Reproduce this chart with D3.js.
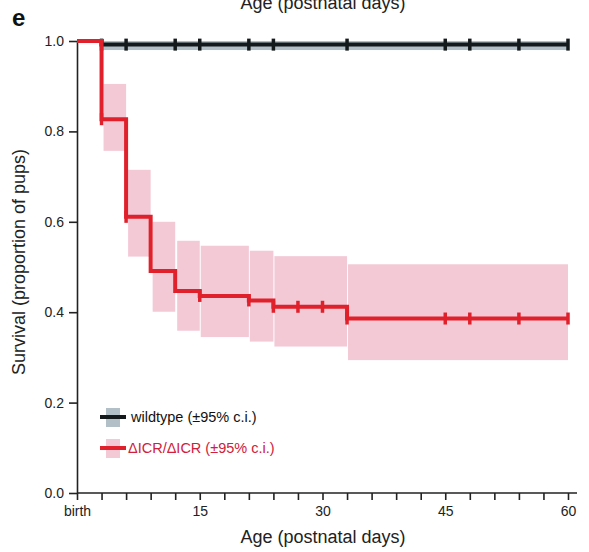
<!DOCTYPE html>
<html>
<head>
<meta charset="utf-8">
<script src="https://cdn.jsdelivr.net/npm/d3@7"></script>
<style>
  body { margin: 0; background: #fff; }
  svg text { font-family: "Liberation Sans", Arial, sans-serif; }
</style>
</head>
<body>
<div id="chart"></div>
<script>
// survival steps (day the step starts, value from then on)
var wtDays = [0, 3, 60];
var wtSurv = [1.0, 0.992, 0.992];
var wtLower = [1.0, 0.980, 0.980];
var wtUpper = [1.0, 1.0, 1.0];
var wtCensor = [3, 6, 12, 15, 21, 24, 33, 45, 48, 54, 60];

var koDays = [0, 3, 6, 9, 12, 15, 21, 24, 33, 60];
var koSurv = [1.0, 0.827, 0.611, 0.491, 0.447, 0.436, 0.426, 0.412, 0.386, 0.386];
var koLower = [1.0, 0.757, 0.523, 0.401, 0.359, 0.345, 0.335, 0.324, 0.294, 0.294];
var koUpper = [1.0, 0.905, 0.715, 0.600, 0.558, 0.547, 0.536, 0.524, 0.506, 0.506];
var koCensor = [3, 6, 15, 21, 24, 27, 30, 33, 45, 48, 54, 60];

var yTicks = [0, 0.2, 0.4, 0.6, 0.8, 1.0];
var xTicks = d3.range(0, 61, 3);
var xLabels = { 0: "birth", 15: "15", 30: "30", 45: "45", 60: "60" };
var legendLabels = ["wildtype (\u00b195% c.i.)", "\u0394ICR/\u0394ICR (\u00b195% c.i.)"];

var w = 589, h = 552;
var red = "#e0202a", pink = "#f3c9d6", dark = "#141a1c", grey = "#b3bfc6";

var x = d3.scaleLinear().domain([0, 60]).range([77, 568]);
var y = d3.scaleLinear().domain([0, 1]).range([493, 41]);

var svg = d3.select("#chart").append("svg")
  .attr("width", w).attr("height", h);

// panel letter and the clipped label above
svg.append("text").attr("x", 12).attr("y", 26)
  .attr("font-size", 24).attr("font-weight", "bold").attr("fill", "#111").text("e");
svg.append("text").attr("x", 323).attr("y", 9).attr("text-anchor", "middle")
  .attr("font-size", 18).attr("fill", "#222").text("Age (postnatal days)");

// confidence bands as step boxes
function bands(days, lo, hi, color) {
  var segs = d3.range(1, days.length - 1);
  svg.append("g").selectAll("rect").data(segs).enter().append("rect")
    .attr("x", function(i) { return x(days[i]) + (i < 5 ? 2 : 1); })
    .attr("width", function(i) { return x(days[i + 1]) - x(days[i]) - (i < 5 ? 2 : 1); })
    .attr("y", function(i) { return y(hi[i]); })
    .attr("height", function(i) { return y(lo[i]) - y(hi[i]); })
    .attr("fill", color);
}
bands(koDays, koLower, koUpper, pink);
bands(wtDays, wtLower, wtUpper, grey);

// axes
var yAxis = d3.axisLeft(y).tickValues(yTicks).tickFormat(d3.format(".1f"))
  .tickSize(8).tickSizeOuter(0);
var gy = svg.append("g").attr("transform", "translate(77,0)").call(yAxis);
gy.selectAll("text").attr("font-size", 14).attr("fill", "#222").attr("dx", "-2");
var xAxis = d3.axisBottom(x).tickValues(xTicks)
  .tickFormat(function(d) { return xLabels[d] || ""; })
  .tickSize(7).tickSizeOuter(0);
var gx = svg.append("g").attr("transform", "translate(0,493)").call(xAxis);
gx.selectAll("text").attr("font-size", 14).attr("fill", "#222").attr("dy", "0.95em");
svg.selectAll(".domain").attr("stroke", "#222").attr("stroke-width", 1.6);
svg.selectAll(".tick line").attr("stroke", "#222").attr("stroke-width", 1.6);
gx.select(".domain").attr("d", "M77,0H577");

svg.append("text").attr("x", 323).attr("y", 543).attr("text-anchor", "middle")
  .attr("font-size", 18).attr("fill", "#222").text("Age (postnatal days)");
svg.append("text").attr("transform", "translate(25,262) rotate(-90)")
  .attr("text-anchor", "middle").attr("font-size", 18).attr("fill", "#222")
  .text("Survival (proportion of pups)");

// step lines
var line = d3.line().curve(d3.curveStepAfter)
  .x(function(d) { return x(d[0]); }).y(function(d) { return y(d[1]); });

function curve(days, surv, censor, color) {
  svg.append("path").datum(d3.zip(days, surv)).attr("d", line)
    .attr("fill", "none").attr("stroke", color).attr("stroke-width", 4);
  var at = d3.scaleThreshold().domain(days.slice(1)).range(surv);
  svg.append("g").selectAll("line").data(censor).enter().append("line")
    .attr("x1", function(d) { return x(d); }).attr("x2", function(d) { return x(d); })
    .attr("y1", function(d) { return y(at(d)) - 6; })
    .attr("y2", function(d) { return y(at(d)) + 6; })
    .attr("stroke", color).attr("stroke-width", 3.5);
}
curve(wtDays, wtSurv, wtCensor, dark);
curve(koDays, koSurv, koCensor, red);

// legend
var legend = svg.append("g");
var legColors = [[grey, dark, "#111"], [pink, red, "#d0203c"]];
legendLabels.forEach(function(lab, i) {
  var cy = 417 + i * 31;
  legend.append("rect").attr("x", 106).attr("y", cy - 9).attr("width", 14).attr("height", 19)
    .attr("fill", legColors[i][0]);
  legend.append("line").attr("x1", 100).attr("x2", 126).attr("y1", cy).attr("y2", cy)
    .attr("stroke", legColors[i][1]).attr("stroke-width", 4);
  legend.append("text").attr("x", i === 0 ? 131 : 128).attr("y", cy + 5)
    .attr("font-size", 14.5).attr("fill", legColors[i][2]).text(lab);
});
</script>
</body>
</html>
